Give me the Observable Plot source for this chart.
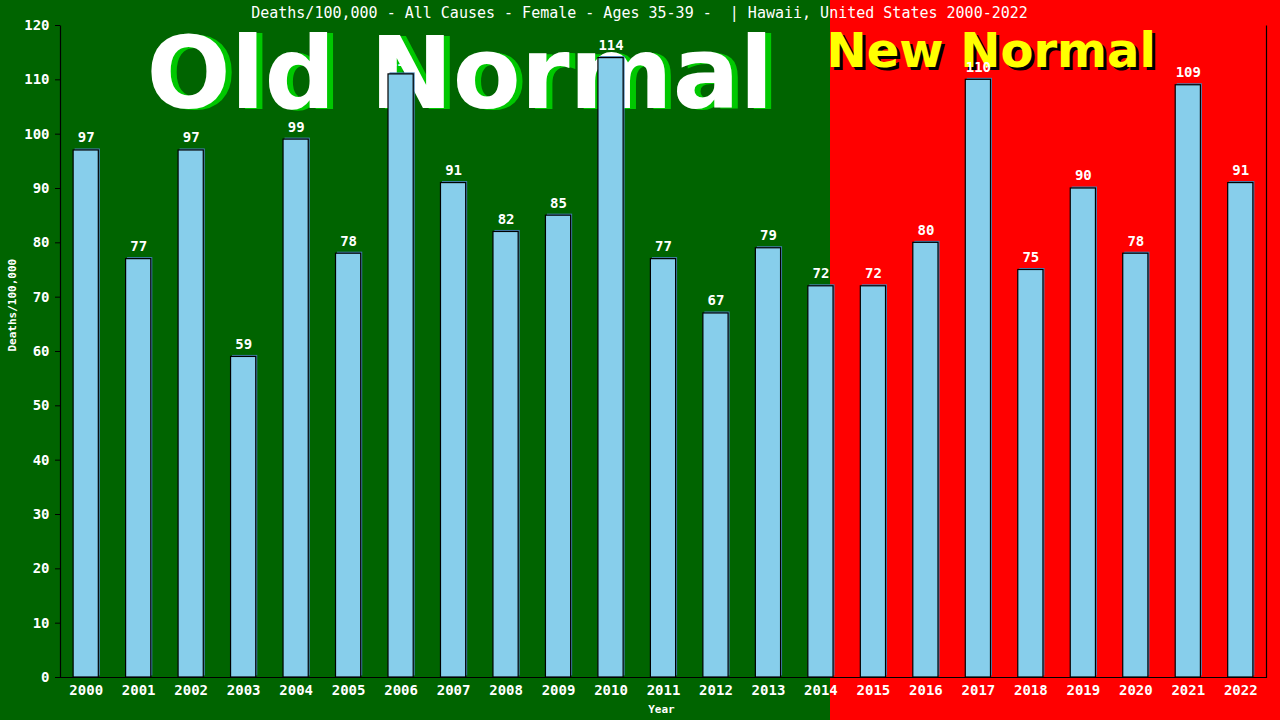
<!DOCTYPE html>
<html><head><meta charset="utf-8">
<script src="https://cdn.jsdelivr.net/npm/d3@7"></script>
<script src="https://cdn.jsdelivr.net/npm/@observablehq/plot@0.6"></script>
<style>
html,body{margin:0;padding:0;background:#006400;overflow:hidden;}
#chart svg{display:block;}
[aria-label="y-axis tick"]{stroke:#000;}
[aria-label="y-axis"] .tick line{stroke:#000;}
</style></head><body><div id="chart"></div>
<script>
const years = ["2000","2001","2002","2003","2004","2005","2006","2007","2008","2009","2010","2011","2012","2013","2014","2015","2016","2017","2018","2019","2020","2021","2022"];
const deaths = [97,77,97,59,99,78,111,91,82,85,114,77,67,79,72,72,80,110,75,90,78,109,91];
const yTicks = [0,10,20,30,40,50,60,70,80,90,100,110,120];
const titleText = "Deaths/100,000 - All Causes - Female - Ages 35-39 -  | Hawaii, United States 2000-2022";
const yLabel = "Deaths/100,000";
const xLabel = "Year";
const oldLabel = "Old Normal";
const newLabel = "New Normal";

const data = years.map((y, i) => ({year: y, value: deaths[i]}));

const W = 1280, H = 720, mL = 60, mR = 14, mT = 25, mB = 43;
const fw = W - mL - mR, fh = H - mT - mB;
const mono = "'DejaVu Sans Mono', monospace";
const sans = "'DejaVu Sans', sans-serif";

const chart = Plot.plot({
  width: W, height: H,
  marginLeft: mL, marginRight: mR, marginTop: mT, marginBottom: mB,
  style: {
    background: "linear-gradient(to right, #006400 0px, #006400 830px, #ff0000 830px, #ff0000 1280px)",
    color: "white",
    fontFamily: mono,
    fontSize: "14px",
    fontWeight: "bold"
  },
  x: {domain: years, paddingInner: 0.52, paddingOuter: 0.25, round: false, label: null, tickSize: 0, tickPadding: 8},
  y: {domain: [0, 120], ticks: yTicks, label: null, tickSize: 5, tickPadding: 6},
  marks: [
    // big annotations (behind bars)
    Plot.text([oldLabel], {frameAnchor: "top-left", text: d => d, textAnchor: "start", lineAnchor: "middle",
      fontFamily: sans, fontWeight: "bold", fontSize: 99, fill: "#00c800", dx: 92, dy: 52}),
    Plot.text([oldLabel], {frameAnchor: "top-left", text: d => d, textAnchor: "start", lineAnchor: "middle",
      fontFamily: sans, fontWeight: "bold", fontSize: 99, fill: "white", dx: 86, dy: 51}),
    Plot.text([newLabel], {frameAnchor: "top-left", text: d => d, textAnchor: "start", lineAnchor: "middle",
      fontFamily: sans, fontWeight: "bold", fontSize: 48, fill: "black", dx: 769, dy: 29}),
    Plot.text([newLabel], {frameAnchor: "top-left", text: d => d, textAnchor: "start", lineAnchor: "middle",
      fontFamily: sans, fontWeight: "bold", fontSize: 48, fill: "#ffff00", dx: 766, dy: 26}),
    // bar shadow + bars
    Plot.barY(data, {x: "year", y: "value", fill: "#4682b4", dx: 1.5, dy: -1.5}),
    Plot.barY(data, {x: "year", y: "value", fill: "#87ceeb", stroke: "black", strokeWidth: 1.2}),
    // frame (left, right, bottom sides only)
    Plot.frame({stroke: "black", strokeWidth: 1.2, strokeDasharray: `0 ${fw} ${fw + 2 * fh}`}),
    // value labels
    Plot.text(data, {x: "year", y: "value", text: d => String(d.value), lineAnchor: "middle", dy: -12.5,
      fill: "white", fontFamily: mono, fontSize: 14, fontWeight: "bold"}),
    // title
    Plot.text([titleText], {frameAnchor: "top", text: d => d, lineAnchor: "middle", dy: -12, dx: -24,
      fill: "white", fontFamily: mono, fontSize: 15, fontWeight: "normal"}),
    // axis labels
    Plot.text([yLabel], {frameAnchor: "left", text: d => d, rotate: -90, lineAnchor: "middle", dx: -48,
      fill: "white", fontFamily: mono, fontSize: 11, fontWeight: "bold"}),
    Plot.text([xLabel], {frameAnchor: "bottom", text: d => d, lineAnchor: "middle", dy: 32, dx: -2,
      fill: "white", fontFamily: mono, fontSize: 11, fontWeight: "bold"})
  ]
});
document.getElementById("chart").appendChild(chart);
</script>
</body></html>
